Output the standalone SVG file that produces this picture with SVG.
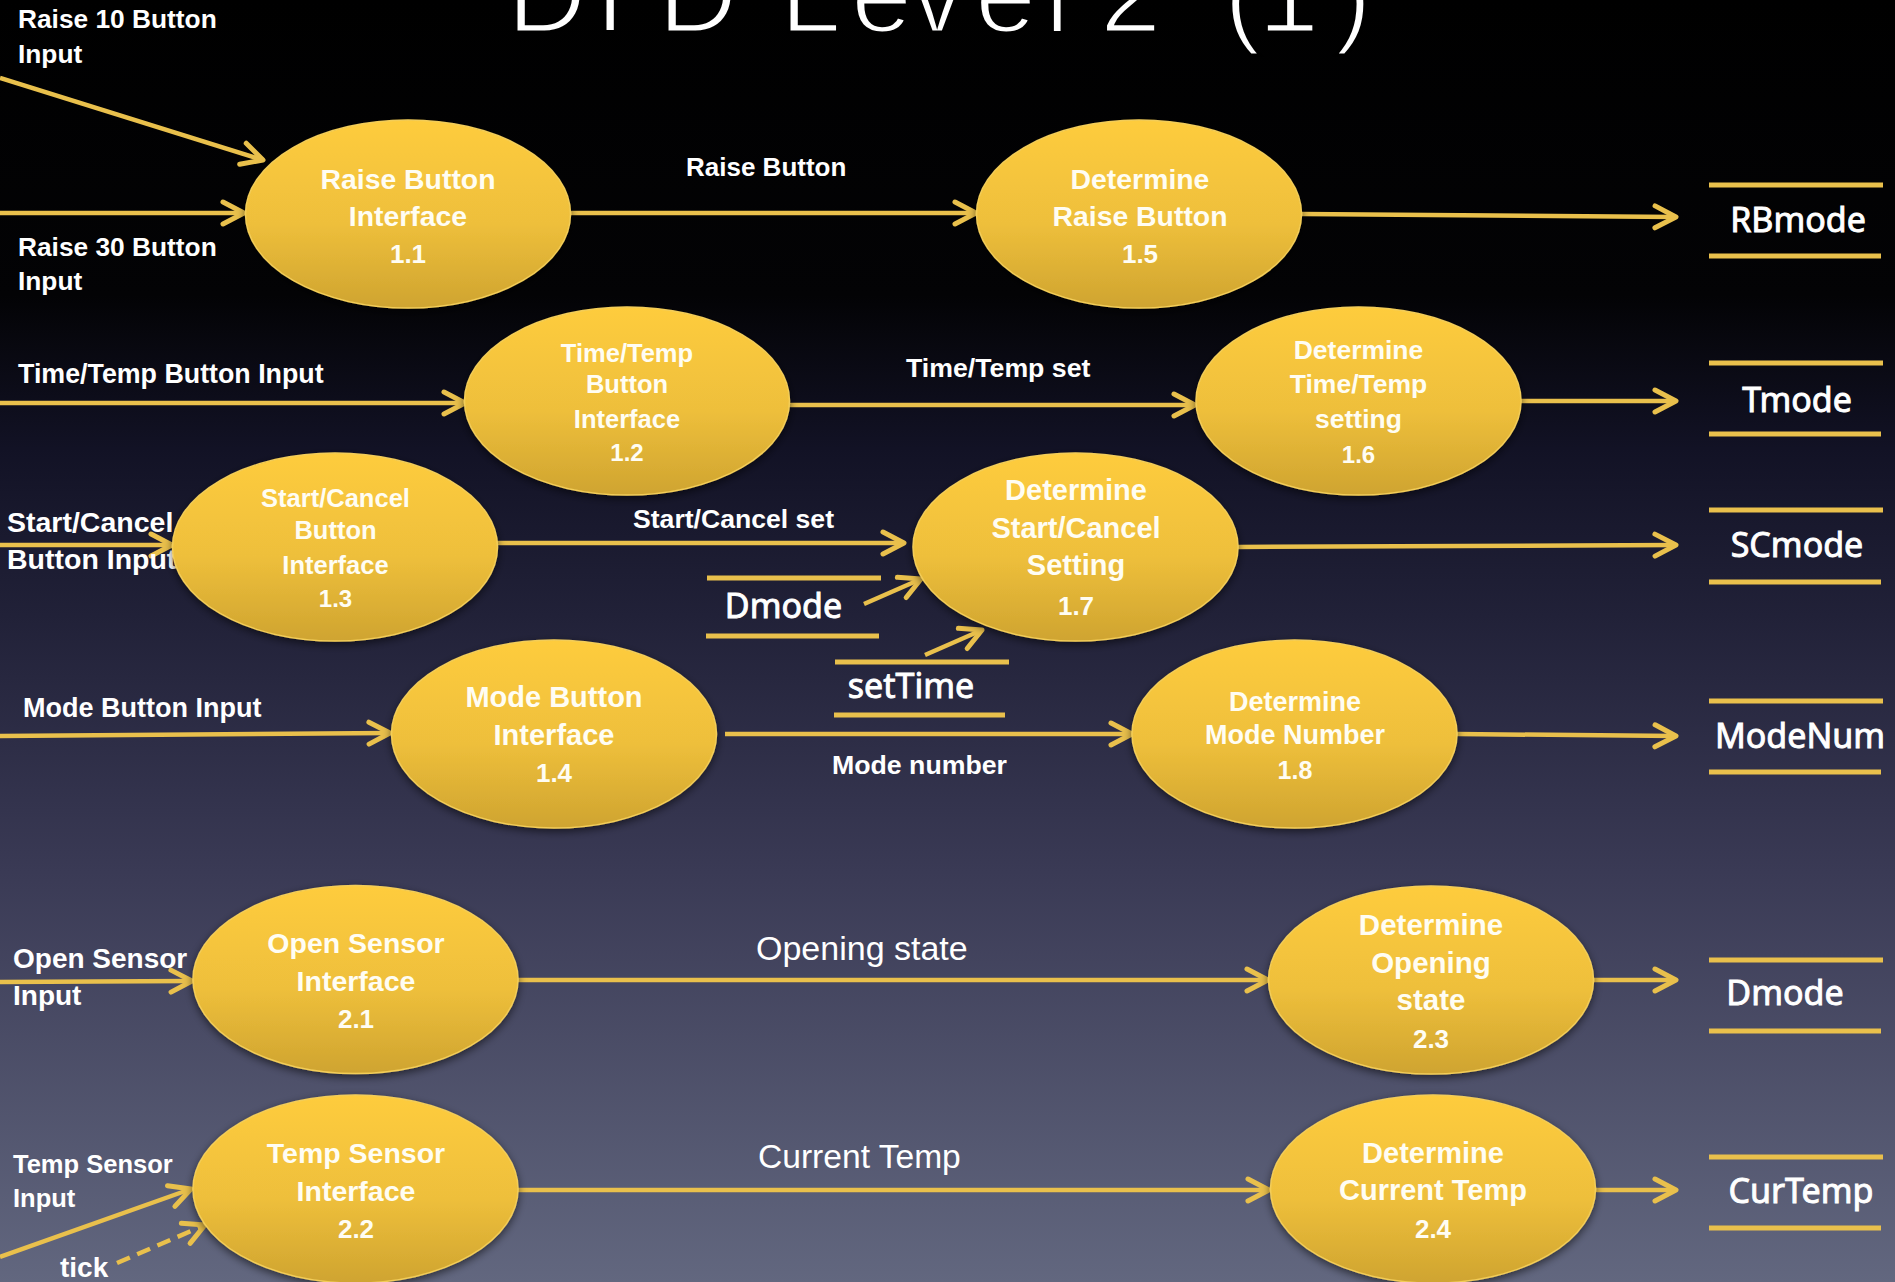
<svg xmlns="http://www.w3.org/2000/svg" width="1895" height="1282" viewBox="0 0 1895 1282">
<defs>
<linearGradient id="bg" x1="0" y1="0" x2="0" y2="1">
<stop offset="0" stop-color="#000000"/>
<stop offset="0.23" stop-color="#030305"/>
<stop offset="0.35" stop-color="#121225"/>
<stop offset="0.48" stop-color="#212138"/>
<stop offset="0.68" stop-color="#3a3a55"/>
<stop offset="1" stop-color="#62677f"/>
</linearGradient>
<linearGradient id="yel" x1="0" y1="0" x2="0" y2="1">
<stop offset="0" stop-color="#fecc3e"/>
<stop offset="0.55" stop-color="#eebf3b"/>
<stop offset="1" stop-color="#cfa430"/>
</linearGradient>
<filter id="sh" x="-20%" y="-20%" width="140%" height="150%">
<feDropShadow dx="0" dy="3" stdDeviation="4" flood-color="#000" flood-opacity="0.55"/>
</filter>
<marker id="ah" markerUnits="userSpaceOnUse" viewBox="-26 -15 30 30" markerWidth="30" markerHeight="30" refX="0" refY="0" orient="auto" overflow="visible">
<path d="M-21,-11 L0,0 L-21,11" fill="none" stroke="#e9c04c" stroke-width="5" stroke-linecap="round" stroke-linejoin="round" stroke-dasharray="none"/>
</marker>
<style>
.bub{fill:url(#yel);stroke:#f3cd58;stroke-width:1.5;filter:url(#sh)}
.nt{font-family:"Liberation Sans",Arial,sans-serif;font-weight:bold;fill:#fffdf3;text-anchor:middle}
.lb{font-family:"Liberation Sans",Arial,sans-serif;font-weight:bold;fill:#ffffff}
.lr{font-family:"Liberation Sans",Arial,sans-serif;fill:#ffffff}
.st{font-family:"Noto Sans","Liberation Sans",sans-serif;fill:#ffffff;stroke:#ffffff;stroke-width:0.9;text-anchor:middle;font-size:34px}
.sl{stroke:#e9c04c;stroke-width:5;fill:none}
.cn{stroke:#e9c04c;stroke-width:4.5;fill:none;marker-end:url(#ah)}
.title{font-family:"Liberation Sans",Arial,sans-serif;font-size:110px;fill:#ffffff;stroke:#000000;stroke-width:3}
</style>
</defs>
<rect x="0" y="0" width="1895" height="1282" fill="url(#bg)"/>

<text class="title" x="507 596 658 730 780 851 910 975 1045 1080 1100 1190 1224 1258 1335" y="32">DFD Level 2 (1)</text>

<g id="connectors">
<line class="cn" x1="0" y1="78" x2="263" y2="160"/>
<line class="cn" x1="0" y1="213" x2="244" y2="213"/>
<line class="cn" x1="570" y1="213" x2="976" y2="213"/>
<line class="cn" x1="1302" y1="214" x2="1676" y2="217"/>
<line class="cn" x1="0" y1="403" x2="465" y2="403"/>
<line class="cn" x1="789" y1="405" x2="1195" y2="405"/>
<line class="cn" x1="1521" y1="401" x2="1676" y2="401"/>
<line class="cn" x1="0" y1="545" x2="172" y2="545"/>
<line class="cn" x1="497" y1="543" x2="904" y2="543"/>
<line class="cn" x1="1238" y1="547" x2="1676" y2="545"/>
<line class="cn" x1="864" y1="604" x2="921" y2="579"/>
<line class="cn" x1="925" y1="655" x2="982" y2="630"/>
<line class="cn" x1="0" y1="736" x2="390" y2="733"/>
<line class="cn" x1="725" y1="734" x2="1132" y2="734"/>
<line class="cn" x1="1457" y1="734" x2="1676" y2="736"/>
<line class="cn" x1="0" y1="982" x2="192" y2="981"/>
<line class="cn" x1="518" y1="980" x2="1268" y2="980"/>
<line class="cn" x1="1593" y1="980" x2="1676" y2="980"/>
<line class="cn" x1="0" y1="1257" x2="191" y2="1189"/>
<line class="cn" x1="117" y1="1263" x2="205" y2="1225" stroke-dasharray="14 8"/>
<line class="cn" x1="518" y1="1190" x2="1269" y2="1190"/>
<line class="cn" x1="1596" y1="1190" x2="1676" y2="1190"/>
</g>

<g id="flow-labels">
<text class="lb" font-size="26.3" x="18" y="28">Raise 10 Button</text>
<text class="lb" font-size="26.3" x="18" y="63">Input</text>
<text class="lb" font-size="26.3" x="18" y="256">Raise 30 Button</text>
<text class="lb" font-size="26.3" x="18" y="290">Input</text>
<text class="lb" font-size="26" x="686" y="176">Raise Button</text>
<text class="lb" font-size="26.8" x="18" y="383">Time/Temp Button Input</text>
<text class="lb" font-size="26.7" x="906" y="377">Time/Temp set</text>
<text class="lb" font-size="28.5" x="7" y="532">Start/Cancel</text>
<text class="lb" font-size="28.5" x="7" y="569">Button Input</text>
<text class="lb" font-size="26.6" x="633" y="528">Start/Cancel set</text>
<text class="lb" font-size="27" x="23" y="717">Mode Button Input</text>
<text class="lb" font-size="26.7" x="832" y="774">Mode number</text>
<text class="lb" font-size="28" x="13" y="968">Open Sensor</text>
<text class="lb" font-size="28" x="13" y="1005">Input</text>
<text class="lb" font-size="25.5" x="13" y="1173">Temp Sensor</text>
<text class="lb" font-size="25.5" x="13" y="1207">Input</text>
<text class="lb" font-size="28" x="60" y="1277">tick</text>
<text class="lr" font-size="34" x="756" y="960">Opening state</text>
<text class="lr" font-size="33.6" x="758" y="1168">Current Temp</text>
</g>

<g id="n1.1">
<ellipse class="bub" cx="408" cy="214" rx="162.5" ry="94"/>
<text class="nt" font-size="28.4" x="408" y="189">Raise Button</text>
<text class="nt" font-size="28.4" x="408" y="226">Interface</text>
<text class="nt" font-size="26" x="408" y="263">1.1</text>
</g>
<g id="n1.5">
<ellipse class="bub" cx="1139" cy="214" rx="162.5" ry="94"/>
<text class="nt" font-size="28.4" x="1140" y="189">Determine</text>
<text class="nt" font-size="28.4" x="1140" y="226">Raise Button</text>
<text class="nt" font-size="26" x="1140" y="263">1.5</text>
</g>
<g id="n1.2">
<ellipse class="bub" cx="627" cy="401" rx="162.5" ry="94"/>
<text class="nt" font-size="25.5" x="627" y="362">Time/Temp</text>
<text class="nt" font-size="25.5" x="627" y="393">Button</text>
<text class="nt" font-size="25.5" x="627" y="428">Interface</text>
<text class="nt" font-size="24" x="627" y="461">1.2</text>
</g>
<g id="n1.6">
<ellipse class="bub" cx="1358.5" cy="401" rx="162.5" ry="94"/>
<text class="nt" font-size="26.5" x="1358.5" y="359">Determine</text>
<text class="nt" font-size="26.5" x="1358.5" y="393">Time/Temp</text>
<text class="nt" font-size="26.5" x="1358.5" y="428">setting</text>
<text class="nt" font-size="24" x="1358.5" y="463">1.6</text>
</g>
<g id="n1.3">
<ellipse class="bub" cx="335" cy="547" rx="162.5" ry="94"/>
<text class="nt" font-size="25.5" x="335.5" y="507">Start/Cancel</text>
<text class="nt" font-size="25.5" x="335.5" y="539">Button</text>
<text class="nt" font-size="25.5" x="335.5" y="574">Interface</text>
<text class="nt" font-size="24" x="335.5" y="607">1.3</text>
</g>
<g id="n1.7">
<ellipse class="bub" cx="1075.5" cy="547" rx="162.5" ry="94"/>
<text class="nt" font-size="29" x="1076" y="500">Determine</text>
<text class="nt" font-size="29" x="1076" y="538">Start/Cancel</text>
<text class="nt" font-size="29" x="1076" y="575">Setting</text>
<text class="nt" font-size="26" x="1076" y="615">1.7</text>
</g>
<g id="n1.4">
<ellipse class="bub" cx="554" cy="734" rx="162.5" ry="94"/>
<text class="nt" font-size="29" x="554" y="707">Mode Button</text>
<text class="nt" font-size="29" x="554" y="745">Interface</text>
<text class="nt" font-size="26" x="554" y="782">1.4</text>
</g>
<g id="n1.8">
<ellipse class="bub" cx="1294.5" cy="734" rx="162.5" ry="94"/>
<text class="nt" font-size="27" x="1295" y="711">Determine</text>
<text class="nt" font-size="27" x="1295" y="744">Mode Number</text>
<text class="nt" font-size="25" x="1295" y="779">1.8</text>
</g>
<g id="n2.1">
<ellipse class="bub" cx="355.5" cy="979.5" rx="162.5" ry="94"/>
<text class="nt" font-size="28.5" x="356" y="953">Open Sensor</text>
<text class="nt" font-size="28.5" x="356" y="991">Interface</text>
<text class="nt" font-size="26" x="356" y="1028">2.1</text>
</g>
<g id="n2.2">
<ellipse class="bub" cx="355.5" cy="1189" rx="162.5" ry="94"/>
<text class="nt" font-size="28.5" x="356" y="1163">Temp Sensor</text>
<text class="nt" font-size="28.5" x="356" y="1201">Interface</text>
<text class="nt" font-size="26" x="356" y="1238">2.2</text>
</g>
<g id="n2.3">
<ellipse class="bub" cx="1431" cy="980" rx="162.5" ry="94"/>
<text class="nt" font-size="29.5" x="1431" y="935">Determine</text>
<text class="nt" font-size="29.5" x="1431" y="973">Opening</text>
<text class="nt" font-size="29.5" x="1431" y="1010">state</text>
<text class="nt" font-size="26" x="1431" y="1048">2.3</text>
</g>
<g id="n2.4">
<ellipse class="bub" cx="1433" cy="1189" rx="162.5" ry="94"/>
<text class="nt" font-size="29" x="1433" y="1163">Determine</text>
<text class="nt" font-size="29" x="1433" y="1200">Current Temp</text>
<text class="nt" font-size="26" x="1433" y="1238">2.4</text>
</g>

<g id="store-RBmode">
<line class="sl" x1="1709" y1="185" x2="1883" y2="185"/>
<line class="sl" x1="1709" y1="256" x2="1881" y2="256"/>
<text class="st" x="1798" y="232">RBmode</text>
</g>
<g id="store-Tmode">
<line class="sl" x1="1709" y1="363" x2="1883" y2="363"/>
<line class="sl" x1="1709" y1="434" x2="1881" y2="434"/>
<text class="st" x="1797" y="412">Tmode</text>
</g>
<g id="store-SCmode">
<line class="sl" x1="1709" y1="510" x2="1883" y2="510"/>
<line class="sl" x1="1709" y1="582" x2="1881" y2="582"/>
<text class="st" x="1797" y="557">SCmode</text>
</g>
<g id="store-ModeNum">
<line class="sl" x1="1709" y1="701" x2="1883" y2="701"/>
<line class="sl" x1="1709" y1="772" x2="1881" y2="772"/>
<text class="st" x="1800" y="748">ModeNum</text>
</g>
<g id="store-Dmode-out">
<line class="sl" x1="1709" y1="960" x2="1883" y2="960"/>
<line class="sl" x1="1709" y1="1031" x2="1881" y2="1031"/>
<text class="st" x="1785" y="1005">Dmode</text>
</g>
<g id="store-CurTemp">
<line class="sl" x1="1709" y1="1157" x2="1883" y2="1157"/>
<line class="sl" x1="1709" y1="1228" x2="1881" y2="1228"/>
<text class="st" x="1801" y="1203">CurTemp</text>
</g>
<g id="store-Dmode-in">
<line class="sl" x1="707" y1="578" x2="881" y2="578"/>
<line class="sl" x1="706" y1="636" x2="879" y2="636"/>
<text class="st" x="783.5" y="618">Dmode</text>
</g>
<g id="store-setTime">
<line class="sl" x1="835" y1="662" x2="1009" y2="662"/>
<line class="sl" x1="834" y1="715" x2="1005" y2="715"/>
<text class="st" x="911" y="698">setTime</text>
</g>
</svg>
